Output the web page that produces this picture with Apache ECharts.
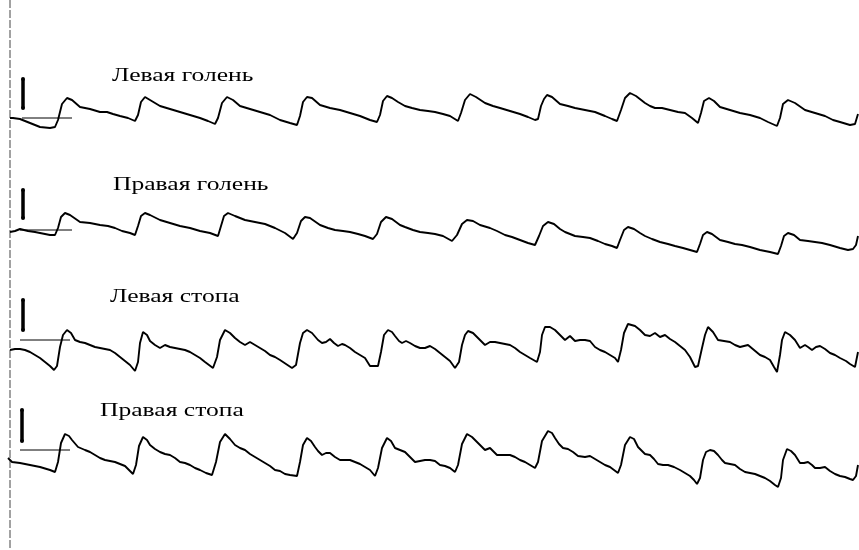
<!DOCTYPE html>
<html><head><meta charset="utf-8">
<script src="https://cdn.jsdelivr.net/npm/echarts@6/dist/echarts.min.js"></script>
<style>html,body{margin:0;padding:0;background:#fff}#c{width:859px;height:550px}</style>
</head><body><div id="c"></div>
<script>
// Trace titles
const traceNames = ['Левая голень', 'Правая голень', 'Левая стопа', 'Правая стопа'];

// [time, level] readings for each trace (level grows downward on the record)
const leftShin = [[10,118],[13,118],[20,119],[30,123],[40,127],[50,128],[55,127],[58,120],[62,104],[67,98],[72,100],[80,107],[90,109],[100,112],[107,112],[113,114],[120,116],[128,118],[135,121],[138,115],[141,102],[145,97],[150,100],[160,106],[170,109],[180,112],[190,115],[200,118],[208,121],[215,124],[218,118],[222,103],[227,97],[233,100],[240,106],[250,109],[260,112],[270,115],[280,120],[290,123],[297,125],[300,116],[303,102],[307,97],[312,98],[320,105],[330,108],[340,110],[350,113],[360,116],[370,120],[377,122],[380,115],[383,101],[387,96],[392,98],[398,102],[405,106],[412,108],[420,110],[428,111],[435,112],[443,114],[450,116],[458,121],[461,113],[465,100],[470,94],[476,97],[485,103],[493,106],[500,108],[510,111],[520,114],[528,117],[535,120],[538,119],[541,106],[544,99],[547,95],[552,97],[560,104],[568,106],[575,108],[585,110],[595,112],[605,116],[612,119],[617,121],[621,110],[625,98],[630,93],[636,96],[645,103],[650,106],[655,108],[662,108],[670,110],[678,112],[685,113],[692,118],[698,123],[701,113],[704,101],[709,98],[714,101],[720,107],[730,110],[740,113],[750,115],[760,118],[768,122],[777,126],[780,118],[783,104],[788,100],[795,103],[805,110],[815,113],[825,116],[833,120],[840,122],[850,125],[855,124],[858,114]];
const rightShin = [[10,232],[15,231],[20,229],[28,231],[35,232],[45,234],[50,235],[55,235],[58,228],[61,217],[65,213],[70,215],[80,222],[90,223],[100,225],[108,226],[115,228],[122,231],[130,233],[135,235],[138,226],[141,216],[145,213],[150,215],[160,220],[170,223],[180,226],[190,228],[200,231],[210,233],[218,236],[221,226],[224,216],[228,213],[235,216],[245,220],[255,222],[265,224],[275,228],[285,233],[293,239],[297,233],[301,221],[305,217],[310,218],[320,225],[328,228],[335,230],[343,231],[350,232],[358,234],[365,236],[373,239],[377,234],[381,222],[386,217],[392,219],[400,225],[405,227],[413,230],[420,232],[428,233],[435,234],[443,236],[452,241],[457,235],[462,224],[467,220],[473,221],[480,225],[490,228],[497,231],[505,235],[512,237],[520,240],[528,243],[535,245],[539,236],[543,226],[548,222],[554,224],[560,229],[565,232],[575,236],[583,237],[590,238],[598,241],[605,244],[612,246],[617,248],[620,240],[624,230],[628,227],[634,229],[640,233],[645,236],[652,239],[660,242],[668,244],[675,246],[683,248],[690,250],[697,252],[700,244],[703,235],[707,232],[712,234],[720,240],[728,242],[735,244],[742,245],[750,247],[760,250],[770,252],[778,254],[781,246],[784,236],[788,233],[794,235],[800,240],[808,241],[815,242],[822,243],[830,245],[840,248],[848,250],[853,249],[856,245],[858,236]];
const leftFoot = [[10,350],[15,349],[20,349],[25,350],[30,352],[35,355],[40,358],[45,362],[50,366],[54,370],[57,366],[60,347],[63,335],[67,330],[71,333],[75,340],[80,342],[85,343],[90,345],[95,347],[100,348],[105,349],[110,350],[115,353],[120,357],[125,361],[130,365],[135,371],[138,362],[140,343],[143,332],[147,335],[150,341],[155,345],[160,348],[165,345],[170,347],[175,348],[180,349],[185,350],[190,352],[195,355],[200,358],[205,362],[209,365],[213,368],[217,357],[220,340],[225,330],[230,333],[235,338],[240,342],[245,345],[250,342],[255,345],[260,348],[265,351],[270,355],[275,357],[280,360],[286,364],[292,368],[296,365],[300,343],[303,333],[307,330],[312,333],[318,340],[322,343],[326,342],[330,339],[334,343],[338,346],[342,344],[345,345],[350,348],[355,352],[360,355],[365,358],[370,366],[374,366],[378,366],[381,352],[384,335],[388,330],[392,332],[395,336],[399,341],[402,343],[406,341],[410,343],[415,346],[420,348],[425,348],[430,346],[435,349],[440,353],[445,357],[450,361],[455,368],[459,362],[462,345],[465,335],[468,331],[473,333],[480,340],[485,345],[490,342],[495,342],[500,343],[505,344],[510,345],[515,348],[520,352],[525,355],[530,358],[537,362],[540,352],[542,335],[545,327],[550,327],[555,330],[560,335],[565,340],[570,336],[575,341],[580,340],[585,340],[590,341],[595,347],[600,350],[605,352],[610,355],[615,358],[618,362],[621,350],[624,333],[628,324],[635,326],[640,330],[645,335],[650,336],[655,333],[660,337],[665,335],[670,339],[675,342],[680,346],[685,350],[690,357],[695,367],[698,366],[702,348],[705,335],[708,327],[713,332],[718,340],[724,341],[730,342],[735,345],[740,347],[748,345],[754,350],[760,355],[765,357],[770,360],[774,367],[777,372],[780,355],[782,340],[785,332],[790,335],[795,340],[800,348],[805,345],[808,347],[812,350],[816,347],[820,346],[825,349],[830,353],[835,355],[840,358],[846,361],[850,364],[855,367],[858,352]];
const rightFoot = [[8,458],[12,462],[20,463],[30,465],[40,467],[50,470],[55,472],[58,462],[61,443],[65,434],[69,436],[72,440],[78,447],[85,450],[90,452],[95,455],[100,458],[105,460],[110,461],[115,462],[120,464],[125,466],[129,470],[133,474],[136,465],[139,446],[143,437],[147,440],[150,445],[155,449],[160,452],[165,454],[170,455],[175,458],[180,462],[185,463],[190,465],[195,468],[200,470],[206,473],[212,475],[216,462],[220,442],[225,434],[230,439],[235,445],[240,448],[245,450],[250,454],[255,457],[260,460],[265,463],[270,466],[275,470],[280,471],[285,474],[290,475],[297,476],[300,462],[303,445],[307,438],[311,441],[315,447],[318,451],[322,455],[326,453],[330,453],[335,457],[340,460],[345,460],[350,460],[355,462],[360,464],[365,467],[370,470],[375,476],[378,468],[382,448],[387,438],[391,441],[395,448],[400,450],[405,452],[410,457],[415,462],[420,461],[425,460],[430,460],[435,461],[440,465],[445,466],[450,468],[455,472],[458,465],[462,444],[467,434],[472,437],[476,441],[480,445],[485,450],[490,448],[493,451],[497,455],[503,455],[510,455],[515,457],[520,460],[525,462],[530,465],[535,468],[538,462],[542,441],[548,431],[552,433],[555,438],[559,444],[563,448],[568,449],[573,452],[578,456],[585,457],[590,456],[595,459],[600,462],[605,465],[610,467],[614,470],[618,473],[621,465],[625,445],[630,437],[634,439],[638,447],[642,451],[645,454],[650,455],[654,459],[658,464],[663,465],[668,465],[674,467],[680,470],[685,473],[690,476],[694,480],[697,484],[700,478],[703,460],[706,452],[710,450],[714,451],[718,455],[722,460],[725,463],[730,464],[735,465],[740,469],[745,472],[750,473],[755,474],[760,476],[765,478],[770,481],[775,485],[778,487],[781,478],[783,460],[787,449],[791,451],[795,455],[800,463],[804,463],[808,462],[812,465],[815,468],[820,468],[825,467],[830,471],[835,474],[840,476],[845,477],[850,479],[853,480],[856,476],[858,465]];

// amplitude calibration marks: [time, top level, bottom level]
const calBars = [[23,79,108],[23,190,218],[23,300,330],[22,410,441]];
// zero reference lines: [start time, end time, level]
const refLines = [[22,72,118],[20,72,230],[20,70,340],[20,70,450]];
// label anchors: [time, level]
const labelAnchors = [[112,76],[113,185],[110,297],[100,411]];

const traces = [leftShin, rightShin, leftFoot, rightFoot];
const series = [];
traces.forEach((d, i) => {
  series.push({type:'line', name: traceNames[i], data: d, showSymbol:false, symbol:'none', smooth:false,
    lineStyle:{color:'#000', width:1.9}, silent:true, z:3});
});
calBars.forEach(b => {
  series.push({type:'line', data:[[b[0],b[1]],[b[0],b[2]]], symbol:'circle', symbolSize:4,
    itemStyle:{color:'#000'}, lineStyle:{color:'#000', width:3.5}, silent:true, z:4});
});
refLines.forEach(r => {
  series.push({type:'line', data:[[r[0],r[2]],[r[1],r[2]]], symbol:'none',
    lineStyle:{color:'#000', width:1}, silent:true, z:2});
});
// left border line
series.push({type:'line', data:[[10,0],[10,550]], symbol:'none',
  lineStyle:{color:'#444', width:1, type:[8,2]}, silent:true, z:1});

const chart = echarts.init(document.getElementById('c'), null, {renderer:'canvas'});
chart.setOption({
  animation:false,
  backgroundColor:'#fff',
  grid:{left:0, right:0, top:0, bottom:0},
  xAxis:{type:'value', min:0, max:859, show:false},
  yAxis:{type:'value', min:0, max:550, inverse:true, show:false},
  series
});
// titles: stretched serif text placed through the chart's own scales
const graphics = labelAnchors.map((p, i) => {
  const px = chart.convertToPixel({gridIndex:0}, p);
  return {type:'text', x:px[0], y:px[1], scaleX:1.42, scaleY:1, z:10,
    style:{text:traceNames[i], fill:'#000', font:'18px "Liberation Serif", "Times New Roman", serif',
      textAlign:'left', textVerticalAlign:'middle'}};
});
chart.setOption({graphic: graphics});
</script></body></html>
